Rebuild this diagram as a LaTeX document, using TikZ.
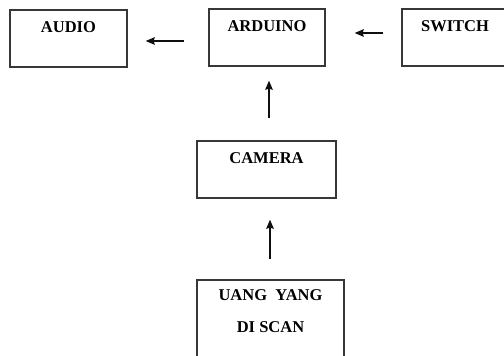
\documentclass[tikz,border=0pt]{standalone}
\usepackage{fontspec}
\usepackage{xcolor}
\usepackage{tikz}
\usetikzlibrary{arrows.meta, positioning}
\setmainfont{Liberation Serif}
\definecolor{boxcolor}{RGB}{55, 55, 55}
\definecolor{arrowcolor}{RGB}{15, 15, 15}
\tikzstyle{blok} = [rectangle, draw=boxcolor, line width=1.4pt, inner sep=0pt, text height=22pt, text depth=35pt, font=\fontsize{16.5}{32}\selectfont\bfseries]
\tikzstyle{arrow} = [line width=1.4pt, draw=arrowcolor, -{Stealth[length=9pt, width=7.5pt, inset=1pt]}]

\begin{document}
\begin{tikzpicture}[x=1pt, y=-1pt]
\useasboundingbox (0,0) rectangle (504,356);

% Baris 1
\node (audio) [blok, minimum width=117pt] at (68.5,38.5) {AUDIO};
\node (arduino) [blok, minimum width=116pt] at (267,37.5) {ARDUINO};
\node (switch) [blok, minimum width=106pt] at (455,37.5) {SWITCH};

% Baris 2
\node (camera) [blok, minimum width=139pt] at (266.5,169.5) {CAMERA};

% Baris 3
\node (uang) [blok, minimum width=147pt, align=center, text height=52pt, text depth=38pt] at (270.5,325) {UANG\ \ YANG\\DI SCAN};

% Panah
\draw [arrow, shorten <=24pt, shorten >=18pt] ([yshift=-3.5pt]arduino.west) -- ([yshift=-2.5pt]audio.east);
\draw [arrow, shorten <=18pt, shorten >=29pt] ([yshift=4.5pt]switch.west) -- ([yshift=4.5pt]arduino.east);
\draw [arrow, shorten <=22pt, shorten >=14pt] ([xshift=2.5pt]camera.north) -- ([xshift=2pt]arduino.south);
\draw [arrow, shorten <=20pt, shorten >=21pt] ([xshift=-0.5pt]uang.north) -- ([xshift=3.5pt]camera.south);

\end{tikzpicture}
\end{document}
